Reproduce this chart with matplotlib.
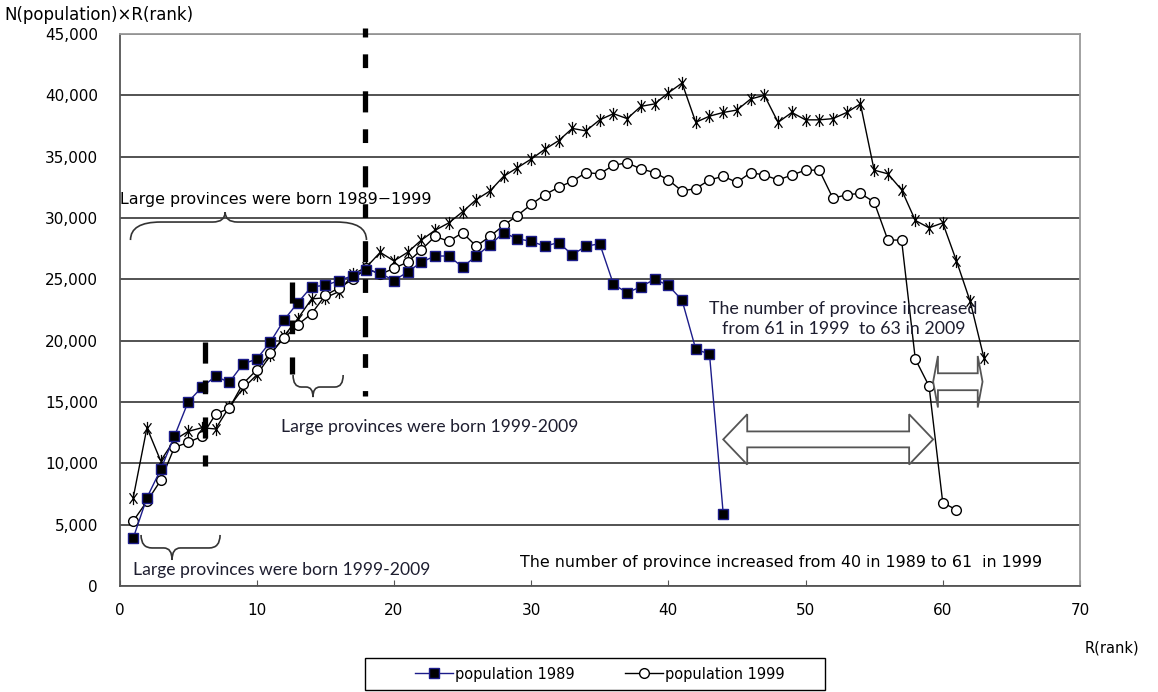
import matplotlib
matplotlib.use("Agg")
import matplotlib.pyplot as plt
import numpy as np
from matplotlib.path import Path
from matplotlib.patches import PathPatch, Polygon, Rectangle

# N x R by rank, prefectures/provinces
rank_1989 = np.arange(1, 45)
pop_1989 = [3900, 7200, 9500, 12200, 15000, 16200, 17100, 16600, 18100, 18500,
            19900, 21700, 23100, 24400, 24500, 24900, 25300, 25800, 25500, 24900,
            25600, 26400, 26900, 26900, 26000, 26900, 27800, 28800, 28300, 28100,
            27700, 28000, 27000, 27700, 27900, 24600, 23900, 24400, 25000, 24500,
            23300, 19300, 18900, 5900]

rank_1999 = np.arange(1, 62)
pop_1999 = [5300, 6900, 8600, 11300, 11700, 12200, 14000, 14500, 16500, 17600,
            19000, 20200, 21300, 22200, 23700, 24300, 25000, 25900, 25400, 25900,
            26400, 27400, 28500, 28100, 28800, 27700, 28500, 29400, 30200, 31100,
            31900, 32500, 33000, 33700, 33600, 34300, 34500, 34000, 33700, 33100,
            32200, 32400, 33100, 33400, 32900, 33700, 33500, 33100, 33500, 33900,
            33900, 31600, 31900, 32000, 31300, 28200, 28200, 18500, 16300, 6800,
            6200]

rank_2009 = np.arange(1, 64)
pop_2009 = [7200, 12900, 10200, 11900, 12600, 12900, 12800, 14600, 16100, 17200,
            18800, 20400, 21800, 23400, 23500, 24000, 25400, 26000, 27200, 26500,
            27200, 28200, 29000, 29600, 30500, 31500, 32200, 33400, 34100, 34800,
            35600, 36300, 37300, 37100, 38000, 38500, 38100, 39100, 39300, 40200,
            41000, 37800, 38300, 38600, 38800, 39700, 40000, 37800, 38600, 38000,
            38000, 38100, 38600, 39300, 33900, 33600, 32300, 29800, 29200, 29600,
            26500, 23200, 18600]

x_ticks = [0, 10, 20, 30, 40, 50, 60, 70]
y_ticks = np.arange(0, 45001, 5000)

# asterisk marker: X plus a vertical stroke
star = Path([(-0.6, -0.8), (0.6, 0.8), (-0.6, 0.8), (0.6, -0.8), (0, -1), (0, 1)],
            [Path.MOVETO, Path.LINETO, Path.MOVETO, Path.LINETO, Path.MOVETO, Path.LINETO])


def brace(ax, x0, x1, xt, ye, yl, ytip, q, qt):
    verts = [(x0, ye), (x0, yl), (x0 + q, yl), (xt - qt, yl), (xt, yl), (xt, ytip),
             (xt, yl), (xt + qt, yl), (x1 - q, yl), (x1, yl), (x1, ye)]
    codes = [Path.MOVETO, Path.CURVE3, Path.CURVE3, Path.LINETO, Path.CURVE3, Path.CURVE3,
             Path.CURVE3, Path.CURVE3, Path.LINETO, Path.CURVE3, Path.CURVE3]
    ax.add_patch(PathPatch(Path(verts, codes), fc="none", ec="#333333", lw=1.2, clip_on=False))


def double_arrow(ax, x0, x1, y, head, hw, sw):
    pts = [(x0, y), (x0 + head, y + hw), (x0 + head, y + sw), (x1 - head, y + sw),
           (x1 - head, y + hw), (x1, y), (x1 - head, y - hw), (x1 - head, y - sw),
           (x0 + head, y - sw), (x0 + head, y - hw)]
    ax.add_patch(Polygon(pts, closed=True, fc="white", ec="#555555", lw=1.3, zorder=4))


def dash_line(ax, x, y_top, y_bottom, offset=0.0):
    # drawn top-down so the dash pattern starts at the upper end
    ax.plot([x, x], [y_top, y_bottom], color="black", lw=3.8, dash_capstyle="butt",
            linestyle=(offset, (4.0, 3.2, 2.6, 4.4)), clip_on=False, zorder=5)


fig = plt.figure(figsize=(11.58, 6.92), dpi=100)
ax = fig.add_axes([0.1032, 0.1532, 0.8294, 0.7977])

ax.plot(rank_2009, pop_2009, color="black", lw=1, marker=star, ms=9.5, mew=0.9,
        mec="black", label="_nolegend_", zorder=3)
l99, = ax.plot(rank_1999, pop_1999, color="black", lw=1, marker="o", ms=7, mfc="white",
               mec="black", mew=1, label="population 1999", zorder=3)
l89, = ax.plot(rank_1989, pop_1989, color="#1c1c8a", lw=1, marker="s", ms=7, mfc="black",
               mec="#1c1c8a", mew=1, label="population 1989", zorder=3)

ax.set_xlim(0, 70)
ax.set_ylim(0, 45000)
ax.set_xticks(x_ticks)
ax.set_yticks(y_ticks)
ax.set_yticklabels([f"{v:,}" for v in y_ticks])
ax.tick_params(axis="x", direction="in", length=4, labelsize=11, pad=12, color="#555555")
ax.tick_params(axis="y", length=0, labelsize=11, pad=15.5)
ax.yaxis.grid(True, color="#444444", lw=1.3)
ax.set_axisbelow(True)
for side in ["left", "bottom"]:
    ax.spines[side].set_color("#555555")
    ax.spines[side].set_linewidth(1.3)
for side in ["right", "top"]:
    ax.spines[side].set_color("#9a9a9a")
    ax.spines[side].set_linewidth(1.3)

# guides
dash_line(ax, 6.2, 19900, 9800)
dash_line(ax, 12.6, 24800, 17300)
dash_line(ax, 17.9, 45500, 15500, offset=2.3)

brace(ax, 0.8, 18.0, 7.7, 28200, 29670, 30480, 2.2, 0.9)
brace(ax, 12.65, 16.3, 14.1, 17200, 16220, 15400, 0.6, 0.5)
brace(ax, 1.57, 7.33, 3.83, 4160, 3100, 2120, 0.8, 0.6)

double_arrow(ax, 44.0, 59.3, 11950, 1.75, 2050, 650)
double_arrow(ax, 59.3, 62.9, 16650, 0.35, 2100, 690)

note_color = "#1e1e30"
ax.text(0.05, 31520, "Large provinces were born 1989\u22121999", fontsize=11.4,
        ha="left", va="center", family="DejaVu Sans")
ax.text(11.8, 13000, "Large provinces were born 1999-2009", fontsize=12.6,
        ha="left", va="center", family="Lato", color=note_color)
ax.text(1.0, 1300, "Large provinces were born 1999-2009", fontsize=12.6,
        ha="left", va="center", family="Lato", color=note_color)
ax.text(29.2, 1950, "The number of province increased from 40 in 1989 to 61  in 1999",
        fontsize=11.4, ha="left", va="center", family="DejaVu Sans")
ax.text(52.75, 21750, "The number of province increased\nfrom 61 in 1999  to 63 in 2009",
        fontsize=12.9, ha="center", va="center", family="Lato", color=note_color,
        linespacing=1.3)

fig.text(0.004, 0.978, "N(population)\u00d7R(rank)", fontsize=12, ha="left", va="center")
fig.text(0.937, 0.063, "R(rank)", fontsize=10.5, ha="left", va="center")

# legend inside a hand-placed box
fig.patches.append(Rectangle((365 / 1158, 1 - 690 / 692), 460 / 1158, 32 / 692,
                             transform=fig.transFigure, fc="white", ec="black", lw=1.0))
leg = fig.legend(handles=[l89, l99], loc="center", bbox_to_anchor=(0.518, 0.026),
                 ncol=2, frameon=False, fontsize=10.5, handlelength=2.6,
                 handletextpad=0.2, columnspacing=3.4, borderpad=0.3)

fig.savefig("out.png", dpi=100)
